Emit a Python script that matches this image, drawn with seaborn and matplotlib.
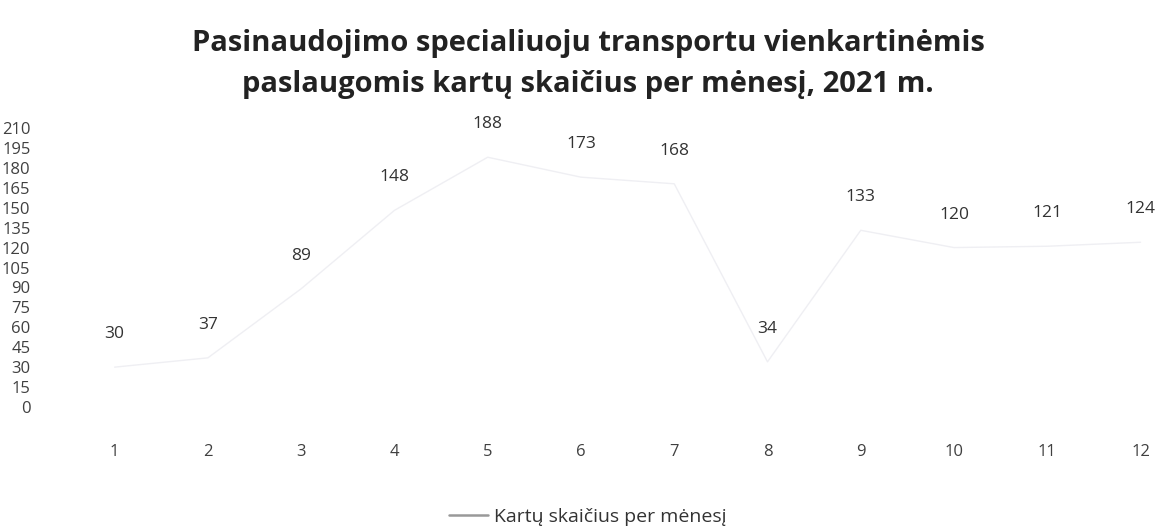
import matplotlib
matplotlib.use("Agg")
import matplotlib.pyplot as plt
import seaborn as sns
import pandas as pd

months = [1, 2, 3, 4, 5, 6, 7, 8, 9, 10, 11, 12]
counts = [30, 37, 89, 148, 188, 173, 168, 34, 133, 120, 121, 124]
yticks = list(range(0, 211, 15))
series_name = "Kartų skaičius per mėnesį"
title = "Pasinaudojimo specialiuoju transportu vienkartinėmis\npaslaugomis kartų skaičius per mėnesį, 2021 m."

sns.set_theme(style="white")
plt.rcParams['font.family'] = ['Open Sans', 'DejaVu Sans']

df = pd.DataFrame({"Mėnuo": months, series_name: counts})

fig = plt.figure(figsize=(11.76, 5.31), dpi=100)
ax = fig.add_axes([68/1176, 1 - 407/531, (1176 - 68)/1176, (407 - 128)/531])

sns.lineplot(data=df, x="Mėnuo", y=series_name, ax=ax, color="#efeff3",
             linewidth=1.0, label=series_name, legend=False)

for m, v in zip(months, counts):
    ax.annotate(str(v), (m, v), xytext=(0, 18), textcoords="offset points",
                ha="center", va="bottom", fontsize=12.5, color="#333333",
                annotation_clip=False)

ax.set_xlim(0.5, 12.38)
ax.set_ylim(0, 210)
ax.set_yticks(yticks)
ax.set_yticklabels([str(t) for t in yticks])
ax.set_xticks(months)
ax.set_xticklabels([str(m) for m in months])
ax.tick_params(axis="y", length=0, pad=27, labelsize=12, labelcolor="#404040")
ax.tick_params(axis="x", length=0, pad=27, labelsize=12, labelcolor="#404040")
for s in ax.spines.values():
    s.set_visible(False)
ax.set_xlabel("")
ax.set_ylabel("")
ax.grid(False)

fig.text(0.5, 1 - 64/531, title, ha="center", va="center", fontsize=21,
         fontweight="bold", color="#222222", linespacing=1.55)

handles = [plt.Line2D([], [], color="#999999", linewidth=1.8)]
fig.legend(handles, [series_name], loc="center", bbox_to_anchor=(0.5, 1 - 517/531),
           frameon=False, fontsize=14, handlelength=2.0, handletextpad=0.3,
           labelcolor="#333333")

fig.savefig("out.png", dpi=100)
